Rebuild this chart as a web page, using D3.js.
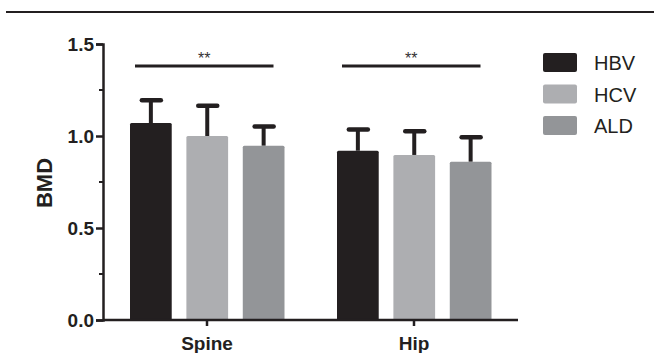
<!DOCTYPE html>
<html>
<head>
<meta charset="utf-8">
<script src="https://cdn.jsdelivr.net/npm/d3@7"></script>
<style>
  body { margin: 0; background: #fff; }
  text { font-family: "Liberation Sans", Arial, sans-serif; }
</style>
</head>
<body>
<div class="graph"></div>
<script>
// data
const sites = ['Spine', 'Hip'];
const groups = ['HBV', 'HCV', 'ALD'];
const means = [
  [1.07, 1.00, 0.947],   // Spine
  [0.92, 0.897, 0.86]    // Hip
];
const sds = [
  [0.127, 0.167, 0.107],
  [0.118, 0.132, 0.136]
];
const yTicks = [0, 0.5, 1.0, 1.5];
const yMinorTicks = [0.25, 0.75, 1.25];
const sigLabels = ['**', '**'];
const sigLevel = 1.38;

const colors = ['#231f20', '#adaeb1', '#939598'];

const width = 654;
const height = 353;

const svg = d3.select('.graph').append('svg')
  .attr('width', width)
  .attr('height', height);

// top rule of the figure panel
svg.append('line')
  .attr('x1', 6).attr('x2', width)
  .attr('y1', 12).attr('y2', 12)
  .attr('stroke', '#231f20')
  .attr('stroke-width', 2.2);

const x = d3.scaleBand()
  .domain(sites)
  .range([103.5, 517.5])
  .padding(0);

const xSub = d3.scaleBand()
  .domain(groups)
  .range([26.5, 181])
  .paddingInner(0.26)
  .paddingOuter(0);

const y = d3.scaleLinear()
  .domain([0, 1.5])
  .range([320, 44]);

// bars
const siteG = svg.selectAll('.site')
  .data(sites)
  .enter().append('g')
  .attr('class', 'site')
  .attr('transform', d => 'translate(' + x(d) + ',0)');

siteG.each(function(site, si) {
  const g = d3.select(this);
  groups.forEach((grp, gi) => {
    const v = means[si][gi];
    const e = sds[si][gi];
    const bx = xSub(grp);
    const cx = bx + xSub.bandwidth() / 2;
    // error bar (only upper half visible above the bar)
    g.append('line')
      .attr('x1', cx).attr('x2', cx)
      .attr('y1', y(v)).attr('y2', y(v + e))
      .attr('stroke', '#231f20')
      .attr('stroke-width', 4);
    g.append('line')
      .attr('x1', cx - 9).attr('x2', cx + 10)
      .attr('y1', y(v + e) + 0.5).attr('y2', y(v + e) + 0.5)
      .attr('stroke', '#231f20')
      .attr('stroke-width', 4.5)
      .attr('stroke-linecap', 'round');
    g.append('rect')
      .attr('x', bx)
      .attr('y', y(v))
      .attr('width', xSub.bandwidth())
      .attr('height', y(0) - y(v))
      .attr('rx', 1.5)
      .attr('fill', colors[gi]);
  });
});

// significance bars
sites.forEach((site, si) => {
  const x0 = x(site) + xSub(groups[0]) + 5;
  const x1 = x(site) + xSub(groups[2]) + xSub.bandwidth() - 11;
  svg.append('line')
    .attr('x1', x0).attr('x2', x1)
    .attr('y1', y(sigLevel)).attr('y2', y(sigLevel))
    .attr('stroke', '#231f20')
    .attr('stroke-width', 3);
  svg.append('text')
    .attr('x', (x0 + x1) / 2)
    .attr('y', y(sigLevel) - 2)
    .attr('text-anchor', 'middle')
    .attr('font-size', 16)
    .attr('fill', '#333')
    .text(sigLabels[si]);
});

// y axis
const yAxis = svg.append('g')
  .attr('transform', 'translate(103,0)')
  .call(d3.axisLeft(y).tickValues(yTicks).tickFormat(d3.format('.1f')).tickSize(7).tickPadding(2));
yAxis.append('g')
  .selectAll('line')
  .data(yMinorTicks)
  .enter().append('line')
  .attr('x1', -4).attr('x2', 0)
  .attr('y1', d => y(d)).attr('y2', d => y(d))
  .attr('stroke', '#231f20')
  .attr('stroke-width', 2);

// x axis
const xAxis = svg.append('g')
  .attr('transform', 'translate(0,320)')
  .call(d3.axisBottom(x).tickSize(6).tickPadding(11));

[yAxis, xAxis].forEach(ax => {
  ax.attr('font-size', null);
  ax.select('.domain').attr('stroke', '#231f20').attr('stroke-width', 2.5);
  ax.selectAll('.tick line').attr('stroke', '#231f20').attr('stroke-width', 2.5);
  ax.selectAll('.tick text')
    .attr('fill', '#231f20')
    .style('font-size', '19px')
    .style('font-weight', 'bold')
    .style('font-family', '"Liberation Sans", Arial, sans-serif');
});
xAxis.select('.domain').attr('d', 'M103,0H518');

// y axis title
svg.append('text')
  .attr('transform', 'translate(52,183) rotate(-90)')
  .attr('text-anchor', 'middle')
  .style('font-size', '22px')
  .style('font-weight', 'bold')
  .attr('fill', '#231f20')
  .text('BMD');

// legend
const legend = svg.selectAll('.legend')
  .data(groups)
  .enter().append('g')
  .attr('class', 'legend')
  .attr('transform', (d, i) => 'translate(543,' + (53 + i * 31.5) + ')');

legend.append('rect')
  .attr('width', 34)
  .attr('height', 19)
  .attr('rx', 2)
  .attr('fill', (d, i) => colors[i]);

legend.append('text')
  .attr('x', 51)
  .attr('y', 17)
  .style('font-size', '20px')
  .attr('fill', '#231f20')
  .text(d => d);
</script>
</body>
</html>
